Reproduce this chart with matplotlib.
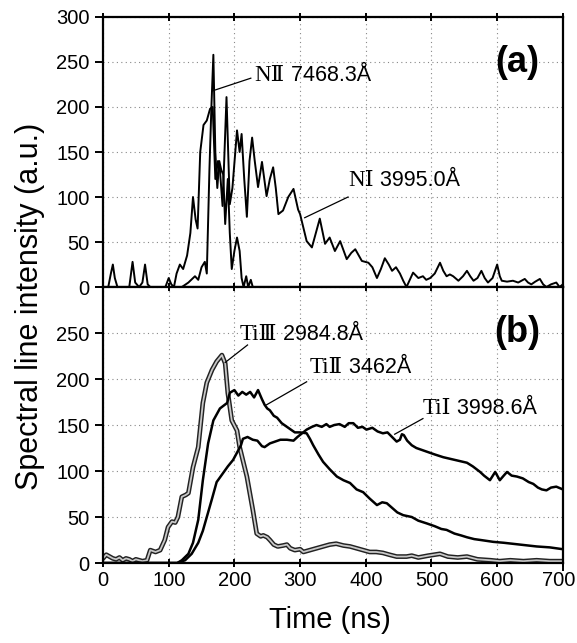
import matplotlib
matplotlib.use("Agg")
import matplotlib.pyplot as plt
import matplotlib.transforms as mtransforms

## Data (time in ns, intensity in a.u.)
# (a) nitrogen lines
n2_time = [0, 120, 130, 140, 145, 150, 155, 158, 162, 165, 168, 171, 174, 177, 180,
           183, 186, 190, 193, 196, 200, 204, 208, 211, 214, 218, 221, 225, 228]
n2_int = [0, 0, 5, 12, 8, 22, 28, 15, 130, 200, 258, 150, 110, 140, 130,
          125, 70, 120, 60, 20, 40, 55, 40, 10, 0, 12, 0, 8, 0]

n1_time = [0, 8, 12, 15, 18, 22, 40, 45, 49, 55, 60, 64, 68, 72, 95, 100, 104, 108,
           112, 117, 122, 128, 133, 137, 141, 144, 148, 153, 158, 163, 167, 171,
           175, 178, 182, 188, 193, 197, 204, 208, 211, 215, 219, 223, 227, 231,
           236, 242, 249, 254, 259, 263, 267, 274, 282, 290, 297, 300, 305, 310,
           318, 324, 330, 338, 345, 353, 361, 371, 378, 384, 394, 404, 410, 417,
           423, 429, 435, 440, 446, 452, 457, 462, 467, 472, 480, 487, 492, 498,
           505, 513, 518, 523, 528, 533, 541, 548, 554, 559, 564, 570, 576, 581,
           586, 593, 600, 604, 607, 615, 624, 632, 642, 647, 652, 658, 665, 670,
           675, 682, 690, 695, 700]
n1_int = [0, 0, 15, 25, 10, 0, 0, 28, 5, 0, 5, 25, 3, 0, 0, 10, 3, 0,
          15, 25, 20, 35, 60, 100, 75, 65, 150, 180, 185, 198, 200, 120,
          140, 130, 90, 211, 92, 110, 174, 150, 170, 120, 78, 140, 166, 140,
          111, 139, 101, 120, 133, 110, 81, 85, 100, 109, 86, 81, 66, 51,
          44, 60, 76, 48, 55, 40, 51, 31, 38, 42, 29, 27, 22, 10,
          20, 32, 25, 18, 22, 15, 7, 0, 8, 16, 10, 12, 8, 10,
          15, 27, 18, 12, 14, 12, 7, 12, 18, 12, 7, 10, 18, 10,
          5, 10, 25, 12, 7, 6, 7, 5, 9, 5, 3, 6, 9, 3,
          0, 3, 5, 0, 3]

# (b) titanium lines
ti3_time = [0, 5, 10, 15, 20, 25, 30, 35, 40, 45, 50, 55, 60, 67, 72, 80, 87, 94,
            99, 105, 110, 114, 120, 126, 130, 137, 145, 152, 158, 166, 173, 181,
            186, 190, 196, 204, 208, 219, 228, 234, 240, 244, 250, 254, 260, 266,
            274, 280, 285, 292, 300, 305, 315, 325, 335, 345, 355, 366, 376, 386,
            396, 406, 416, 426, 436, 447, 462, 470, 480, 495, 513, 525, 540, 554,
            570, 590, 604, 620, 640, 660, 680, 700]
ti3_int = [5, 9, 7, 5, 4, 6, 3, 5, 4, 2, 4, 3, 2, 3, 14, 12, 14, 25,
           39, 45, 44, 50, 72, 74, 76, 104, 126, 174, 196, 210, 219, 226,
           217, 185, 155, 144, 126, 94, 58, 32, 29, 30, 28, 25, 20, 18,
           19, 20, 16, 14, 15, 12, 14, 16, 18, 20, 21, 19, 18, 16,
           14, 12, 12, 11, 9, 7, 7, 8, 6, 8, 10, 7, 6, 7,
           4, 3, 2, 3, 2, 3, 2, 2]

ti2_time = [0, 113, 120, 130, 137, 145, 152, 160, 168, 178, 189, 193, 200, 206, 212,
            218, 224, 230, 236, 242, 246, 250, 254, 260, 265, 272, 280, 286, 292,
            300, 310, 315, 320, 328, 335, 345, 356, 366, 376, 386, 396, 406, 417,
            425, 432, 440, 448, 457, 470, 480, 493, 505, 515, 523, 535, 545, 554,
            565, 575, 594, 610, 635, 660, 680, 700]
ti2_int = [0, 0, 3, 10, 22, 47, 90, 130, 155, 168, 174, 185, 188, 182, 186,
           183, 186, 180, 188, 178, 172, 168, 166, 160, 158, 152, 148, 145, 142,
           142, 141, 135, 128, 118, 110, 102, 94, 90, 87, 80, 77, 70, 63,
           66, 65, 60, 55, 52, 50, 46, 43, 40, 37, 36, 32, 30, 28,
           26, 25, 23, 22, 20, 18, 17, 15]

ti1_time = [0, 113, 125, 135, 145, 152, 160, 166, 173, 180, 190, 198, 204, 210, 213,
            220, 228, 235, 242, 246, 254, 262, 270, 280, 290, 296, 303, 310, 318,
            325, 333, 340, 345, 352, 360, 368, 374, 381, 388, 395, 401, 410, 418,
            426, 433, 440, 447, 452, 455, 458, 463, 470, 477, 485, 493, 505, 518,
            530, 542, 554, 563, 574, 580, 589, 597, 604, 610, 615, 622, 630, 639,
            648, 655, 662, 668, 675, 682, 690, 700]
ti1_int = [0, 0, 3, 10, 22, 35, 55, 70, 88, 95, 105, 112, 120, 128, 135,
           137, 134, 133, 127, 126, 130, 132, 134, 134, 133, 137, 141, 145, 148,
           150, 148, 151, 148, 150, 151, 148, 152, 152, 147, 148, 145, 147, 143,
           141, 142, 137, 132, 134, 140, 139, 133, 128, 125, 123, 121, 118, 115,
           113, 111, 109, 105, 99, 95, 90, 99, 90, 95, 99, 95, 94, 92,
           88, 86, 82, 80, 79, 82, 83, 80]

x_ticks = [0, 100, 200, 300, 400, 500, 600, 700]
y_ticks = [0, 50, 100, 150, 200, 250, 300]

sans = ["Liberation Sans", "DejaVu Sans"]
serif = ["Liberation Serif", "DejaVu Serif"]
plt.rcParams["font.family"] = sans

fig = plt.figure(figsize=(5.77, 6.43), dpi=100)
ax_a = fig.add_axes([0.1785, 0.5536, 0.797, 0.4200])
ax_b = fig.add_axes([0.1785, 0.1244, 0.797, 0.4292])


def style_axes(ax, show_x):
    ax.set_xlim(0, 700)
    ax.set_ylim(0, 300)
    ax.set_xticks(x_ticks)
    ax.set_yticks(y_ticks)
    ax.grid(True, color="#888888", linestyle=(0, (1, 3)), linewidth=0.8)
    for s in ax.spines.values():
        s.set_linewidth(1.6)
    ax.tick_params(axis="y", left=True, right=True, width=1.4, length=6,
                   direction="out", labelsize=14.5)
    ax.tick_params(axis="x", top=True, bottom=True, width=1.4, length=6,
                   direction="inout", labelsize=14.5, pad=3)
    ax.tick_params(axis="x", labelbottom=show_x)
    # right-hand ticks point inward
    for t in ax.yaxis.get_major_ticks():
        t.tick2line.set_marker(3)
        t.tick2line.set_markersize(6)


style_axes(ax_a, False)
style_axes(ax_b, True)
ax_b.set_yticklabels(["0", "50", "100", "150", "200", "250", ""])

# keep the "700" label inside the picture
shift = mtransforms.ScaledTranslation(-4 / 100, 0, fig.dpi_scale_trans)
last = ax_b.get_xticklabels()[-1]
last.set_transform(last.get_transform() + shift)

# (a)
ax_a.plot(n1_time, n1_int, color="black", linewidth=1.4)
ax_a.plot(n2_time, n2_int, color="black", linewidth=1.4)
ax_a.text(0.90, 0.83, "(a)", transform=ax_a.transAxes, fontsize=26,
          fontweight="bold", ha="center", va="center")

# (b)
ax_b.plot(ti3_time, ti3_int, color="#222222", linewidth=3.4)
ax_b.plot(ti3_time, ti3_int, color="#c8c8c8", linewidth=1.3)
ax_b.plot(ti2_time, ti2_int, color="black", linewidth=1.8)
ax_b.plot(ti1_time, ti1_int, color="black", linewidth=1.8)
ax_b.text(0.90, 0.837, "(b)", transform=ax_b.transAxes, fontsize=26,
          fontweight="bold", ha="center", va="center")


def label_line(ax, prefix, rest, text_xy, line_from, line_to):
    # ion name in serif, wavelength in sans, plus a plain leader line
    t1 = ax.text(text_xy[0], text_xy[1], prefix, fontsize=16.5, family=serif,
                 ha="left", va="center")
    ax.annotate(rest, xy=(1, 0.5), xycoords=t1, fontsize=15.5, family=sans,
                ha="left", va="center")
    ax.plot([line_from[0], line_to[0]], [line_from[1], line_to[1]],
            color="black", linewidth=0.9)


label_line(ax_a, "N\u2161", " 7468.3\u00c5", (231, 235), (225, 232), (167, 218))
label_line(ax_a, "N\u2160", " 3995.0\u00c5", (373, 118), (373, 100), (307, 77))
label_line(ax_b, "Ti\u2162", " 2984.8\u00c5", (208, 248), (220, 237), (186, 218))
label_line(ax_b, "Ti\u2161", " 3462\u00c5", (315, 212), (310, 197), (249, 172))
label_line(ax_b, "Ti\u2160", " 3998.6\u00c5", (487, 168), (487, 157), (444, 140))

fig.text(0.052, 0.524, "Spectral line intensity (a.u.)", rotation=90,
         ha="center", va="center", fontsize=22)
fig.text(0.572, 0.036, "Time (ns)", ha="center", va="center", fontsize=21)

fig.savefig("out.png", dpi=100)
